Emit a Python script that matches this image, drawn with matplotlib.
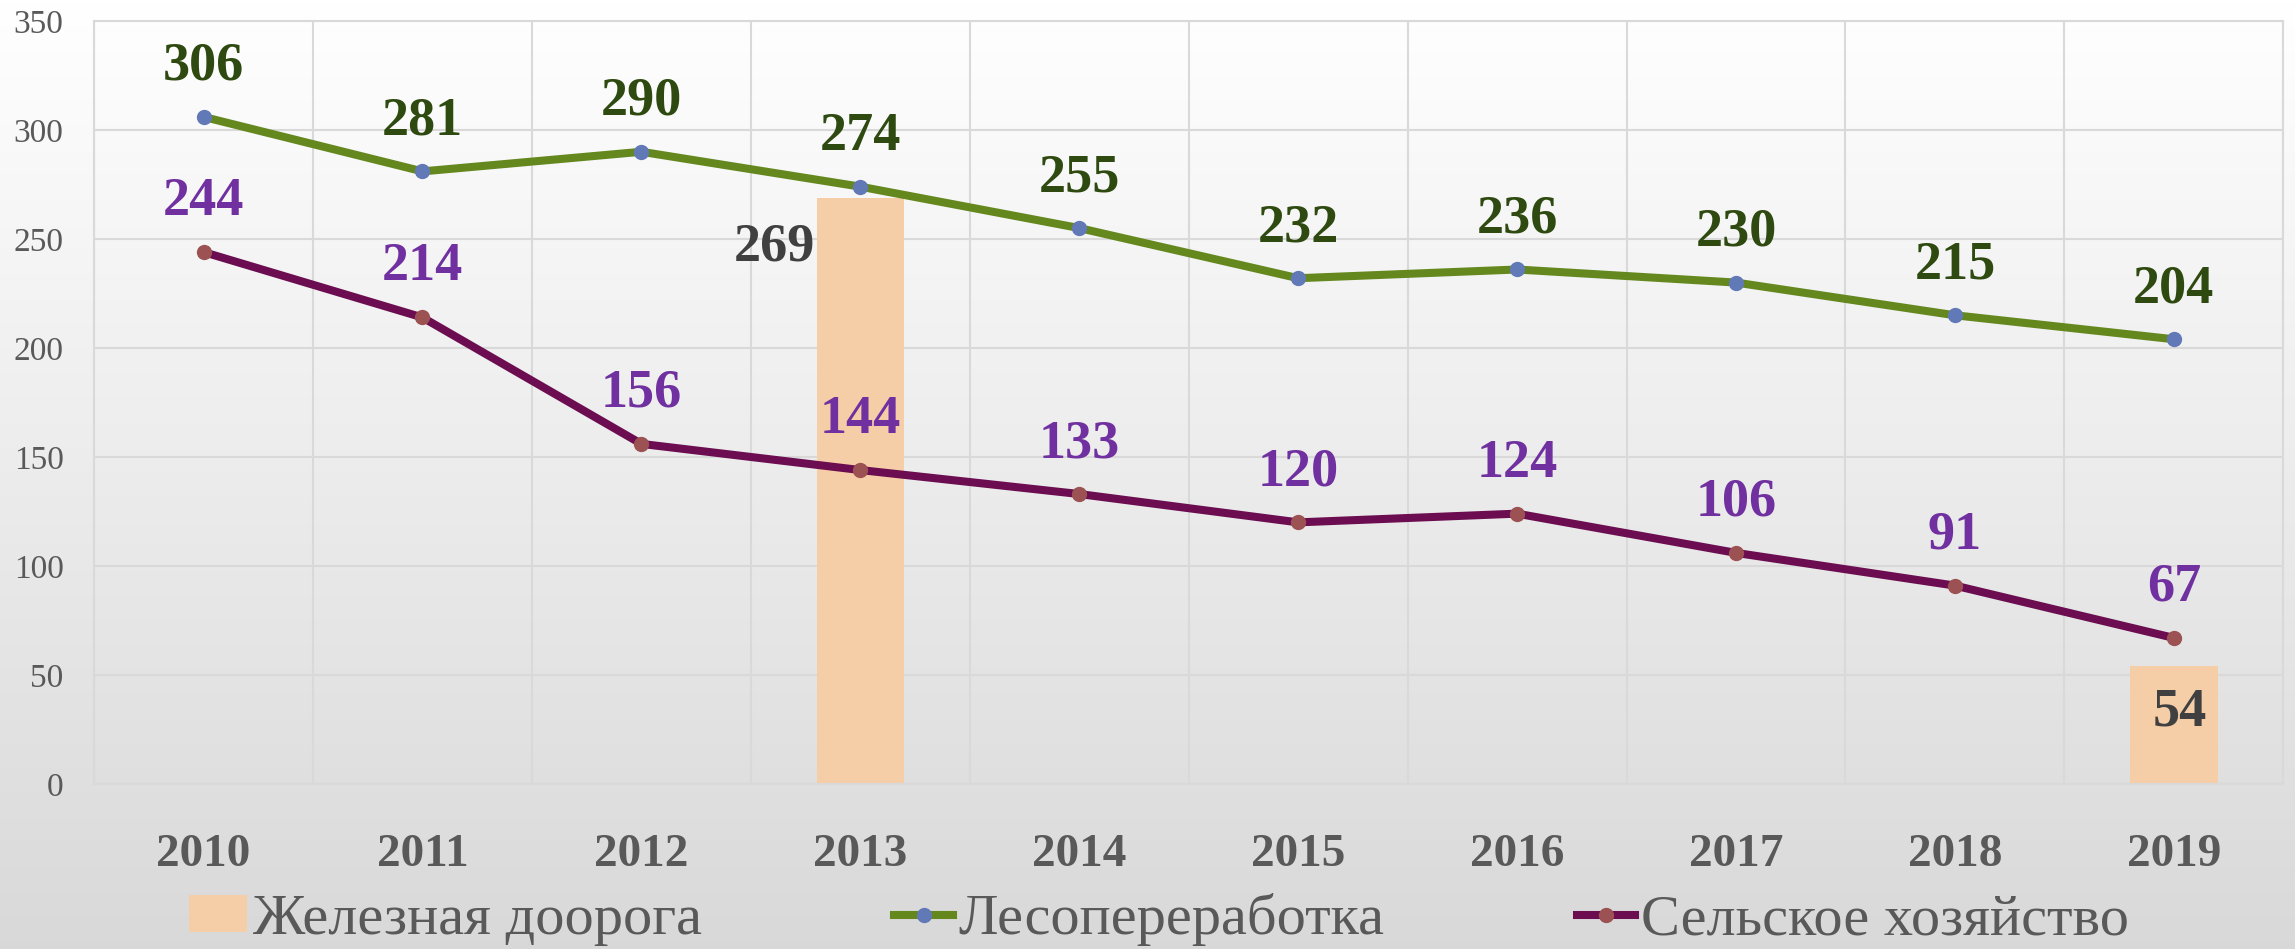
import numpy as np
import matplotlib
matplotlib.use('Agg')
import matplotlib.pyplot as plt
from matplotlib.patches import Patch
from matplotlib.lines import Line2D

years = ['2010', '2011', '2012', '2013', '2014', '2015', '2016', '2017', '2018', '2019']
rail = [None, None, None, 269, None, None, None, None, None, 54]
forest = [306, 281, 290, 274, 255, 232, 236, 230, 215, 204]
agri = [244, 214, 156, 144, 133, 120, 124, 106, 91, 67]
y_ticks = [0, 50, 100, 150, 200, 250, 300, 350]

plt.rcParams['font.family'] = ['Liberation Serif', 'DejaVu Serif']

fig = plt.figure(figsize=(22.95, 9.49), dpi=100)

# gradient background
bg = fig.add_axes([0, 0, 1, 1], zorder=-10)
grad = np.linspace(1.0, 0.85, 256).reshape(-1, 1)
bg.imshow(np.dstack([grad, grad, grad]), aspect='auto', extent=[0, 1, 0, 1])
bg.axis('off')

ax = fig.add_axes([0.041, 0.1739, 0.9539, 0.804])
ax.set_facecolor('none')
x = np.arange(len(years))

bar_x = [i for i, v in enumerate(rail) if v is not None]
bar_v = [v for v in rail if v is not None]
ax.bar(bar_x, bar_v, width=0.4, color='#f5cea8', zorder=2)

ax.plot(x, forest, color='#64881e', lw=5.8, marker='o', ms=10,
        mfc='#6279b8', mec='#6279b8', zorder=3, solid_capstyle='round')
ax.plot(x, agri, color='#6b0d50', lw=5.8, marker='o', ms=10,
        mfc='#9c5252', mec='#9c5252', zorder=3, solid_capstyle='round')

for i, v in enumerate(forest):
    ax.annotate(str(v), (i, v), xytext=(0, 36), textcoords='offset points',
                ha='center', va='center', fontsize=39, fontweight='bold',
                color='#2f4a10', zorder=5)
for i, v in enumerate(agri):
    ax.annotate(str(v), (i, v), xytext=(0, 36), textcoords='offset points',
                ha='center', va='center', fontsize=39, fontweight='bold',
                color='#7030a0', zorder=5)

# railway labels
ax.annotate(str(rail[3]), (3 - 0.2, rail[3]), xytext=(-1, -36), textcoords='offset points',
            ha='right', va='center', fontsize=39, fontweight='bold', color='#404040', zorder=5)
ax.annotate(str(rail[9]), (9, rail[9]), xytext=(4, -33), textcoords='offset points',
            ha='center', va='center', fontsize=39, fontweight='bold', color='#404040', zorder=5)

ax.set_xlim(-0.5, len(years) - 0.5)
ax.set_ylim(0, 350)
ax.set_yticks(y_ticks)
ax.set_yticklabels([str(t) for t in y_ticks], fontsize=24, color='#595959')
ax.set_xticks(x)
ax.set_xticklabels(years, fontsize=34, fontweight='bold', color='#595959')
ax.set_xticks(np.arange(-0.5, len(years), 1), minor=True)
ax.tick_params(axis='y', length=0, pad=22)
ax.tick_params(axis='x', which='both', length=0, pad=36)
ax.grid(axis='y', which='major', color='#d9d9d9', lw=1.5, zorder=0)
ax.grid(axis='x', which='minor', color='#d9d9d9', lw=1.5, zorder=0)
ax.grid(axis='x', which='major', visible=False)
for s in ax.spines.values():
    s.set_color('#d9d9d9')
    s.set_linewidth(1.5)

handles = [
    Patch(facecolor='#f5cea8', edgecolor='none'),
    Line2D([], [], color='#64881e', lw=5.8, marker='o', ms=10, mfc='#6279b8', mec='#6279b8'),
    Line2D([], [], color='#6b0d50', lw=5.8, marker='o', ms=10, mfc='#9c5252', mec='#9c5252'),
]
labels = ['Железная доорога', 'Лесопереработка', 'Сельское хозяйство']
leg = fig.legend(handles, labels, loc='center', bbox_to_anchor=(0.505, 0.031), ncol=3,
                 frameon=False, fontsize=42, handlelength=1.0, handleheight=0.6,
                 handletextpad=0.1, columnspacing=3.3, borderpad=0,
                 prop={'family': ['Liberation Serif', 'DejaVu Serif'], 'size': 42})
for t in leg.get_texts():
    t.set_color('#595959')

fig.savefig('out.png', dpi=100)
